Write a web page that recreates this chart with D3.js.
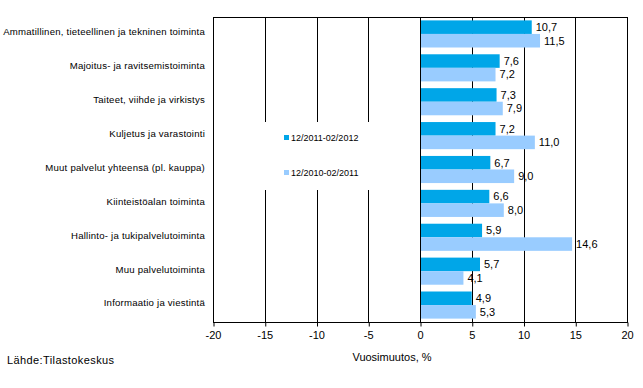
<!DOCTYPE html>
<meta charset="utf-8">
<style>
  body {
    margin: 0;
    background: #fff;
    font-family: "Liberation Sans", Arial, Helvetica, sans-serif;
  }
  text { fill: #000; }
</style>
<body>
<script src="https://cdn.jsdelivr.net/npm/d3@7"></script>
<script>

var categories = [
  "Ammatillinen, tieteellinen ja tekninen toiminta",
  "Majoitus- ja ravitsemistoiminta",
  "Taiteet, viihde ja virkistys",
  "Kuljetus ja varastointi",
  "Muut palvelut yhteensä (pl. kauppa)",
  "Kiinteistöalan toiminta",
  "Hallinto- ja tukipalvelutoiminta",
  "Muu palvelutoiminta",
  "Informaatio ja viestintä"
];
var seriesNames = ["12/2011-02/2012", "12/2010-02/2011"];
var current = [10.7, 7.6, 7.3, 7.2, 6.7, 6.6, 5.9, 5.7, 4.9];
var previous = [11.5, 7.2, 7.9, 11.0, 9.0, 8.0, 14.6, 4.1, 5.3];
var ticks = [-20, -15, -10, -5, 0, 5, 10, 15, 20];
var colors = ["#00a6e8", "#99ccff"];

var width = 643, height = 388,
    margin = {top: 17, right: 16, bottom: 66, left: 213};

var svg = d3.select("body").append("svg")
    .attr("width", width)
    .attr("height", height);

var x = d3.scaleLinear()
    .domain([-20, 20])
    .range([margin.left, width - margin.right]);

var y = d3.scaleBand()
    .domain(categories)
    .range([margin.top, height - margin.bottom])
    .paddingInner(0.2)
    .paddingOuter(0.1);

var sub = d3.scaleBand()
    .domain([0, 1])
    .range([0, y.bandwidth()]);

var fmt = function(v) { return d3.format(".1f")(v).replace(".", ","); };

// legend box (drawn later over gridlines)
var legend = {x: 262, y: 122, w: 110, h: 68};

// gridlines
svg.append("g")
  .selectAll("line")
  .data(ticks.slice(1, -1))
  .enter().append("line")
    .attr("x1", function(d) { return Math.round(x(d)) + 0.5; })
    .attr("x2", function(d) { return Math.round(x(d)) + 0.5; })
    .attr("y1", margin.top)
    .attr("y2", height - margin.bottom)
    .attr("stroke", "#000");

// frame
svg.append("rect")
    .attr("x", margin.left + 0.5)
    .attr("y", margin.top + 0.5)
    .attr("width", x(20) - x(-20))
    .attr("height", height - margin.bottom - margin.top)
    .attr("fill", "none")
    .attr("stroke", "#000");

// legend background hides gridlines
svg.append("rect")
    .attr("x", legend.x)
    .attr("y", legend.y)
    .attr("width", legend.w)
    .attr("height", legend.h)
    .attr("fill", "#fff");

var series = [current, previous];

series.forEach(function(vals, s) {
  var g = svg.append("g");
  g.selectAll("rect")
    .data(vals)
    .enter().append("rect")
      .attr("x", function(d) { return x(Math.min(0, d)) + 1; })
      .attr("y", function(d, i) { return y(categories[i]) + sub(s); })
      .attr("width", function(d) { return Math.abs(x(d) - x(0)); })
      .attr("height", sub.bandwidth())
      .attr("fill", colors[s]);

  g.selectAll("text")
    .data(vals)
    .enter().append("text")
      .attr("x", function(d) { return x(d) + 5; })
      .attr("y", function(d, i) { return y(categories[i]) + sub(s) + sub.bandwidth() / 2; })
      .attr("dy", "0.35em")
      .style("font-size", "11px")
      .text(fmt);
});

// category labels
svg.append("g")
  .selectAll("text")
  .data(categories)
  .enter().append("text")
    .attr("x", margin.left - 8)
    .attr("y", function(d) { return y(d) + y.bandwidth() / 2 - 2; })
    .attr("dy", "0.35em")
    .attr("text-anchor", "end")
    .style("font-size", "9.6px")
    .style("letter-spacing", "0.22px")
    .text(function(d) { return d; });

// x axis
var axis = svg.append("g")
    .attr("transform", "translate(0," + (height - margin.bottom + 0.5) + ")")
    .call(d3.axisBottom(x).tickValues(ticks).tickSize(4).tickPadding(5).tickFormat(function(d) { return d; }));
axis.select(".domain").remove();
axis.selectAll("line").attr("stroke", "#000").attr("transform", "translate(0.5,0)");
axis.selectAll("text")
    .style("font-family", "'Liberation Sans', Arial, sans-serif")
    .style("font-size", "11px")
    .attr("fill", "#000");

// legend entries
seriesNames.forEach(function(name, s) {
  var ly = 138 + s * 35;
  svg.append("rect")
      .attr("x", 284)
      .attr("y", ly - 3)
      .attr("width", 5)
      .attr("height", 5)
      .attr("fill", colors[s]);
  svg.append("text")
      .attr("x", 291)
      .attr("y", ly)
      .attr("dy", "0.35em")
      .style("font-size", "9px")
      .text(name);
});

svg.append("text")
    .attr("x", 392)
    .attr("y", 361)
    .attr("text-anchor", "middle")
    .style("font-size", "11px")
    .text("Vuosimuutos, %");

svg.append("text")
    .attr("x", 7)
    .attr("y", 364)
    .style("font-size", "11px")
    .style("letter-spacing", "0.4px")
    .text("Lähde:Tilastokeskus");

</script>
</body>
</html>
